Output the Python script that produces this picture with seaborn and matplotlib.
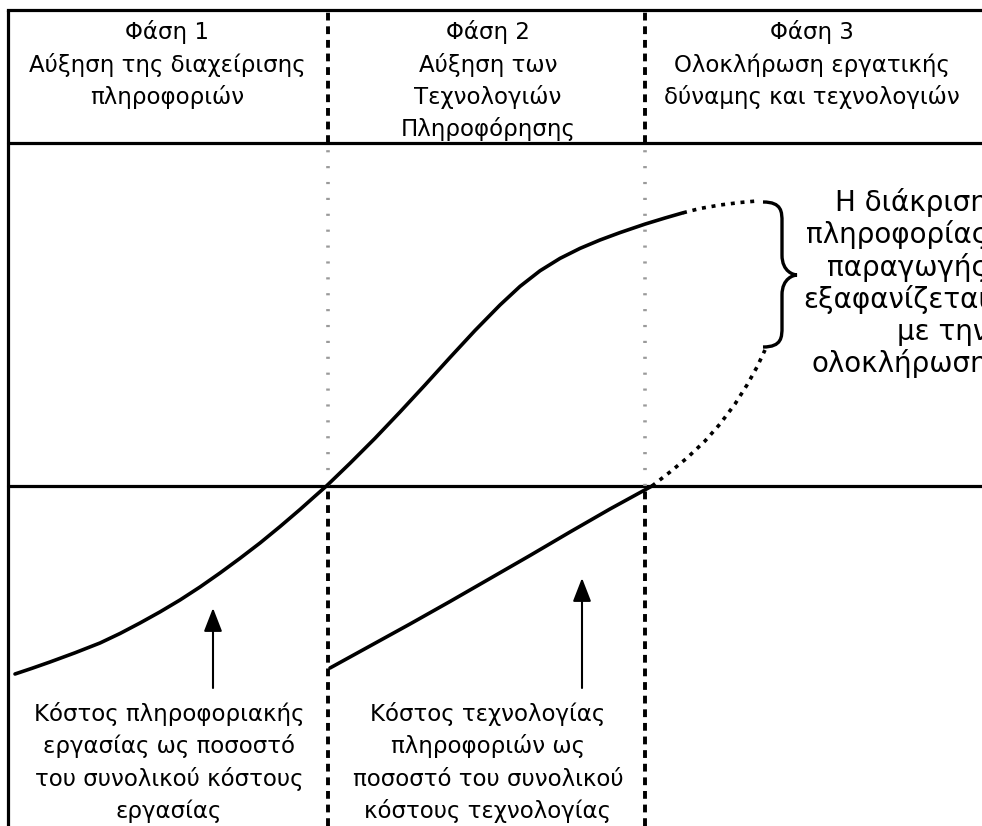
import numpy as np
import pandas as pd
import matplotlib
matplotlib.use("Agg")
import matplotlib.pyplot as plt
from matplotlib.path import Path
from matplotlib.patches import PathPatch
import seaborn as sns

# ---------------- data (diagram units: x = time, y = level) ----------------
phase_bounds = [328, 645]
header_titles = ["Φάση 1\nΑύξηση της διαχείρισης\nπληροφοριών",
                 "Φάση 2\nΑύξηση των\nΤεχνολογιών\nΠληροφόρησης",
                 "Φάση 3\nΟλοκλήρωση εργατικής\nδύναμης και τεχνολογιών"]
header_x = [167, 488, 812]

# curve 1: cost of information work (solid) + extension (dotted)
c1_x = [15, 32, 50, 75, 100, 120, 140, 160, 180, 200, 220, 240, 260, 280, 300, 314,
        327, 350, 375, 400, 425, 450, 475, 500, 520, 540, 560, 580, 600, 620, 645,
        665, 683]
c1_y = [152, 157.7, 164, 173.2, 183, 192.5, 203, 214.1, 226, 239, 253, 267.7, 283,
        299.4, 316.5, 329, 340.5, 362.7, 387.7, 414, 441, 468.5, 495.5, 521, 539.6,
        555.2, 567.6, 577.6, 586, 593.4, 601.9, 608, 613.2]
c1d_x = [683, 700, 720, 740, 757]
c1d_y = [613.2, 617.5, 621, 623.5, 625]

# curve 2: cost of information technology (solid) + extension (dotted)
c2_x = [330, 370, 410, 450, 490, 530, 570, 610, 652]
c2_y = [158, 180, 202, 224.5, 247.5, 270.5, 294, 317, 340]
c2d_x = [652, 670, 687, 705, 720, 735, 747, 757, 765]
c2d_y = [340, 354, 368, 385, 402, 422, 441, 459, 476]

bottom_labels = ["Κόστος πληροφοριακής\nεργασίας ως ποσοστό\nτου συνολικού κόστους\nεργασίας",
                 "Κόστος τεχνολογίας\nπληροφοριών ως\nποσοστό του συνολικού\nκόστους τεχνολογίας"]
bottom_x = [169, 488]
arrow_x = [213, 582]
arrow_y0 = [138, 138]
arrow_y1 = [218, 248]

side_text = "Η διάκριση\nπληροφορίας\nπαραγωγής\nεξαφανίζεται\nμε την\nολοκλήρωση"

# ---------------- figure ----------------
sns.set_theme(style="white")
plt.rcParams["font.family"] = ["DejaVu Sans"]

W, H = 982, 826
fig = plt.figure(figsize=(W / 100, H / 100), dpi=100)
ax = fig.add_axes([0, 0, 1, 1])
ax.set_xlim(0, W)
ax.set_ylim(0, H)
ax.axis("off")

LINE_LOW, LINE_HIGH, TOP, LEFT = 340, 683, 816, 8
LW = 2.3
# frame
ax.plot([LEFT, LEFT], [0, TOP], color="black", lw=LW, solid_capstyle="butt")
ax.plot([LEFT, W], [TOP, TOP], color="black", lw=LW, solid_capstyle="projecting")
ax.plot([LEFT, W], [LINE_HIGH, LINE_HIGH], color="black", lw=LW)
ax.plot([LEFT, W], [LINE_LOW, LINE_LOW], color="black", lw=LW)

# phase dividers
for xb in phase_bounds:
    ax.plot([xb, xb], [LINE_HIGH, TOP], color="black", lw=2.8,
            linestyle=(0, (2.0, 1.5)), dash_capstyle="butt")
    ax.plot([xb, xb], [LINE_LOW, LINE_HIGH], color="#9a9a9a", lw=2.6,
            linestyle=(0, (0.6, 3.8)), dash_capstyle="butt")
    ax.plot([xb, xb], [0, LINE_LOW], color="black", lw=2.8,
            linestyle=(0, (2.0, 1.5)), dash_capstyle="butt")

# curves
def seg(x, y, dotted=False):
    df = pd.DataFrame({"x": x, "y": y})
    sns.lineplot(data=df, x="x", y="y", sort=False, estimator=None, ax=ax,
                 color="black", lw=2.6)
    line = ax.lines[-1]
    line.set_solid_joinstyle("round")
    if dotted:
        line.set_linestyle((0, (1.1, 1.6)))
        line.set_dash_capstyle("butt")

seg(c1_x, c1_y)
seg(c2_x, c2_y)
seg(c1d_x, c1d_y, dotted=True)
seg(c2d_x, c2d_y, dotted=True)

# curly brace
bx0, bx1, bxt = 763, 782, 797
by_top, by_bot, by_mid = 624, 479, 551
verts = [(bx0, by_top), (bx1, by_top), (bx1, by_top - 10), (bx1, by_top - 20),
         (bx1, by_mid + 20),
         (bx1, by_mid + 3), (bxt - 3, by_mid), (bxt, by_mid),
         (bxt - 3, by_mid), (bx1, by_mid - 3), (bx1, by_mid - 20),
         (bx1, by_bot + 20),
         (bx1, by_bot + 10), (bx1, by_bot), (bx0, by_bot)]
codes = [Path.MOVETO, Path.CURVE4, Path.CURVE4, Path.CURVE4,
         Path.LINETO,
         Path.CURVE4, Path.CURVE4, Path.CURVE4,
         Path.CURVE4, Path.CURVE4, Path.CURVE4,
         Path.LINETO,
         Path.CURVE4, Path.CURVE4, Path.CURVE4]
ax.add_patch(PathPatch(Path(verts, codes), facecolor="none", edgecolor="black", lw=2.4))

# arrows
for xa, ya0, ya1 in zip(arrow_x, arrow_y0, arrow_y1):
    ax.annotate("", xy=(xa, ya1), xytext=(xa, ya0),
                arrowprops=dict(arrowstyle="-|>,head_length=0.9,head_width=0.35",
                                color="black", lw=1.5, mutation_scale=16,
                                shrinkA=0, shrinkB=0))

# text blocks, one line at a time for exact line pitch
PITCH = 32.3
def block(x, y_first_baseline, text, fs, ha="center"):
    for i, line in enumerate(text.split("\n")):
        ax.text(x, y_first_baseline - i * PITCH, line, ha=ha, va="baseline",
                fontsize=fs, color="black", clip_on=False)

FS = 16.5
for xt, t in zip(header_x, header_titles):
    block(xt, 786.5, t, FS)
for xt, t in zip(bottom_x, bottom_labels):
    block(xt, 105, t, FS)
block(988, 615, side_text, 20, ha="right")

fig.savefig("out.png", dpi=100, facecolor="white")
